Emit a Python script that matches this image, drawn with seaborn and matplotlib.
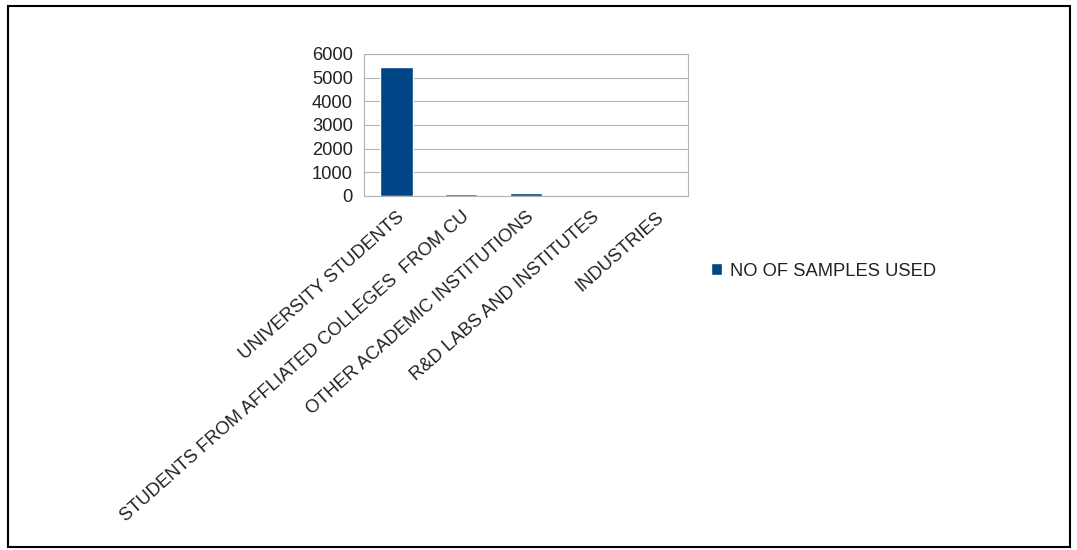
import pandas as pd
import matplotlib.pyplot as plt
import seaborn as sns
from matplotlib.patches import Rectangle

categories = ['UNIVERSITY STUDENTS', 'STUDENTS FROM AFFLIATED COLLEGES  FROM CU',
              'OTHER ACADEMIC INSTITUTIONS', 'R&D LABS AND INSTITUTES', 'INDUSTRIES']
samples = [5460, 60, 130, 0, 0]
series_name = 'NO OF SAMPLES USED'

df = pd.DataFrame({'category': categories, 'value': samples})

sns.set_style('white')
plt.rcParams['font.family'] = ['Liberation Sans', 'DejaVu Sans']

fig = plt.figure(figsize=(10.77, 5.5), dpi=100)
ax = fig.add_axes([0.338, 0.644, 0.301, 0.258])

sns.barplot(x='category', y='value', data=df, color='#004586', width=0.5,
            saturation=1, ax=ax, label=series_name)

ax.set_ylim(0, 6000)
ax.set_yticks(range(0, 6001, 1000))
ax.set_xlim(-0.5, len(categories) - 0.5)
ax.yaxis.grid(True, color='#b3b3b3', linewidth=0.8)
ax.set_axisbelow(True)
for s in ax.spines.values():
    s.set_color('#b3b3b3')
    s.set_linewidth(0.8)

# category boundaries as tick marks, labels centred on bars
ax.set_xticks([i + 0.5 for i in range(-1, len(categories))], minor=False)
ax.set_xticklabels([])
ax.set_xticks(range(len(categories)), minor=True)
ax.set_xticklabels(categories, minor=True, rotation=41.5, ha='right',
                   rotation_mode='anchor', fontsize=13.2, color='#222222')
ax.tick_params(axis='x', which='major', length=7, color='#b3b3b3', width=0.8, direction='out')
ax.tick_params(axis='x', which='minor', length=0, pad=9)
ax.tick_params(axis='y', length=6, color='#b3b3b3', width=0.8, labelsize=13.2,
               labelcolor='#222222', pad=2)
ax.set_xlabel('')
ax.set_ylabel('')

ax.legend(loc='center left', bbox_to_anchor=(1.02, -0.53), frameon=False,
          fontsize=13.2, handlelength=0.6, handleheight=0.6, handletextpad=0.45,
          labelcolor='#222222')

fig.patches.append(Rectangle((8 / 1077, 3 / 550), 1062 / 1077, 541 / 550,
                             transform=fig.transFigure, fill=False,
                             edgecolor='black', linewidth=1.5))

fig.savefig('out.png', dpi=100)
